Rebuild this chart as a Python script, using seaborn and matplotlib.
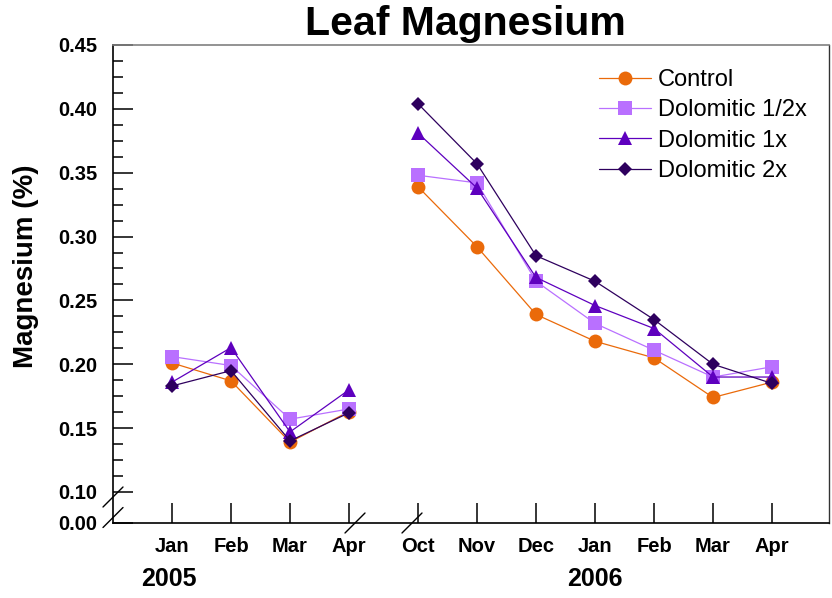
import numpy as np
import pandas as pd
import matplotlib
matplotlib.use("Agg")
import matplotlib.pyplot as plt
from matplotlib.lines import Line2D
from matplotlib.ticker import FixedLocator, FixedFormatter
import matplotlib.transforms as mtransforms
import seaborn as sns

# ---------------- data ----------------
months_2005 = ["Jan", "Feb", "Mar", "Apr"]
months_2006 = ["Oct", "Nov", "Dec", "Jan", "Feb", "Mar", "Apr"]
series_names = ["Control", "Dolomitic 1/2x", "Dolomitic 1x", "Dolomitic 2x"]

control_2005 = [0.201, 0.187, 0.139, 0.163]
half_2005 = [0.206, 0.199, 0.157, 0.165]
one_2005 = [0.186, 0.213, 0.147, 0.180]
two_2005 = [0.183, 0.195, 0.140, 0.162]

control_2006 = [0.339, 0.292, 0.239, 0.218, 0.205, 0.174, 0.186]
half_2006 = [0.348, 0.342, 0.265, 0.232, 0.211, 0.190, 0.198]
one_2006 = [0.381, 0.338, 0.268, 0.246, 0.228, 0.190, 0.190]
two_2006 = [0.404, 0.357, 0.285, 0.265, 0.235, 0.200, 0.185]

y_tick_values = [0.10, 0.15, 0.20, 0.25, 0.30, 0.35, 0.40, 0.45]

# ---------------- style ----------------
sns.set_theme(style="white")
plt.rcParams["font.family"] = ["Liberation Sans", "DejaVu Sans"]
plt.rcParams["text.color"] = "black"
plt.rcParams["axes.labelcolor"] = "black"
plt.rcParams["xtick.color"] = "black"
plt.rcParams["ytick.color"] = "black"

colors = ["#EA6A0A", "#B970FF", "#5E00BE", "#2E005E"]
markers = ["o", "s", "^", "D"]
msizes = [10, 10, 10.5, 7.5]

GAP = 69 / 59  # spacing between Apr 2005 and Oct 2006 in month units

x2005 = np.arange(len(months_2005), dtype=float)
x2006 = x2005[-1] + GAP + np.arange(len(months_2006), dtype=float)

vals_2005 = [control_2005, half_2005, one_2005, two_2005]
vals_2006 = [control_2006, half_2006, one_2006, two_2006]

rows = []
for name, v5, v6 in zip(series_names, vals_2005, vals_2006):
    for xx, v in zip(x2005, v5):
        rows.append(dict(series=name, period="2005", x=xx, value=v))
    for xx, v in zip(x2006, v6):
        rows.append(dict(series=name, period="2006", x=xx, value=v))
df = pd.DataFrame(rows)

fig = plt.figure(figsize=(8.32, 5.98), dpi=100)
ax = fig.add_axes([113 / 832, 75 / 598, 716 / 832, 478 / 598])

for name, c, m, ms in zip(series_names, colors, markers, msizes):
    sub = df[df.series == name]
    sns.lineplot(data=sub, x="x", y="value", units="period", estimator=None,
                 color=c, marker=m, markersize=ms, markeredgewidth=0,
                 linewidth=0.9, ax=ax, legend=False)

# axis limits: 0.00 sits just below 0.10 (broken axis)
y_break = 0.10 - 0.0243
ax.set_ylim(y_break, 0.45)
ax.set_xlim(x2005[0] - 1.0, x2006[-1] + 0.966)

ax.yaxis.set_major_locator(FixedLocator([y_break] + y_tick_values))
ax.yaxis.set_major_formatter(FixedFormatter(["0.00"] + [f"{t:.2f}" for t in y_tick_values]))
minor = [t for t in np.arange(0.10, 0.45001, 0.0125) if min(abs(t - np.array(y_tick_values))) > 1e-6]
ax.yaxis.set_minor_locator(FixedLocator(minor))

ax.set_xticks(list(x2005) + list(x2006))
ax.set_xticklabels(months_2005 + months_2006)
ax.set_xlabel("")
ax.set_ylabel("")

ax.tick_params(axis="both", which="major", direction="in", length=14.5, width=1.1,
               color="black", labelcolor="black", labelsize=14.5, bottom=True, left=True)
ax.tick_params(axis="y", which="minor", direction="in", length=7.2, width=1.1,
               color="black", left=True)
ax.tick_params(axis="y", which="major", pad=11)
ax.tick_params(axis="x", which="major", pad=10)
for lab in ax.get_xticklabels() + ax.get_yticklabels():
    lab.set_fontweight("bold")

for side in ["left", "bottom"]:
    ax.spines[side].set_color("black")
    ax.spines[side].set_linewidth(1.2)
ax.spines["top"].set_color("#808080")
ax.spines["top"].set_linewidth(1.2)
ax.spines["right"].set_color("#333333")
ax.spines["right"].set_linewidth(1.0)

# break marks
def slash(xc, yc):
    dx = 10 / 716
    dy = 10 / 478
    ax.plot([xc - dx, xc + dx], [yc - dy, yc + dy], transform=ax.transAxes,
            color="black", lw=1.0, clip_on=False)

slash(0.0, 26 / 478)
slash(0.0, 5.5 / 478)
slash((355 - 113) / 716, 0.0)
slash((412 - 113) / 716, 0.0)

# year labels under Jan of each year
trans = mtransforms.blended_transform_factory(ax.transData, ax.transAxes)
ax.text(x2005[0] - 0.05, -0.117, "2005", transform=trans, ha="center", va="center",
        fontsize=18, fontweight="bold", color="black")
ax.text(x2006[3], -0.117, "2006", transform=trans, ha="center", va="center",
        fontsize=18, fontweight="bold", color="black")

fig.text(465 / 832, 1 - 35 / 598, "Leaf Magnesium", ha="center", va="baseline",
         fontsize=29.5, fontweight="bold", color="black")
fig.text(26 / 832, 1 - 266 / 598, "Magnesium (%)", rotation=90, ha="center",
         va="center", fontsize=20, fontweight="bold", color="black")

handles = [Line2D([0], [0], color=c, marker=m, markersize=ms, markeredgewidth=0,
                  linewidth=0.9) for c, m, ms in zip(colors, markers, msizes)]
leg = ax.legend(handles, series_names, loc="upper left",
                bbox_to_anchor=((599 - 113) / 716, (523 - 69) / 478),
                frameon=False, fontsize=17, borderpad=0, borderaxespad=0,
                labelspacing=0.35, handlelength=2.2, handletextpad=0.3)
for t in leg.get_texts():
    t.set_color("black")

fig.savefig("out.png", dpi=100)
